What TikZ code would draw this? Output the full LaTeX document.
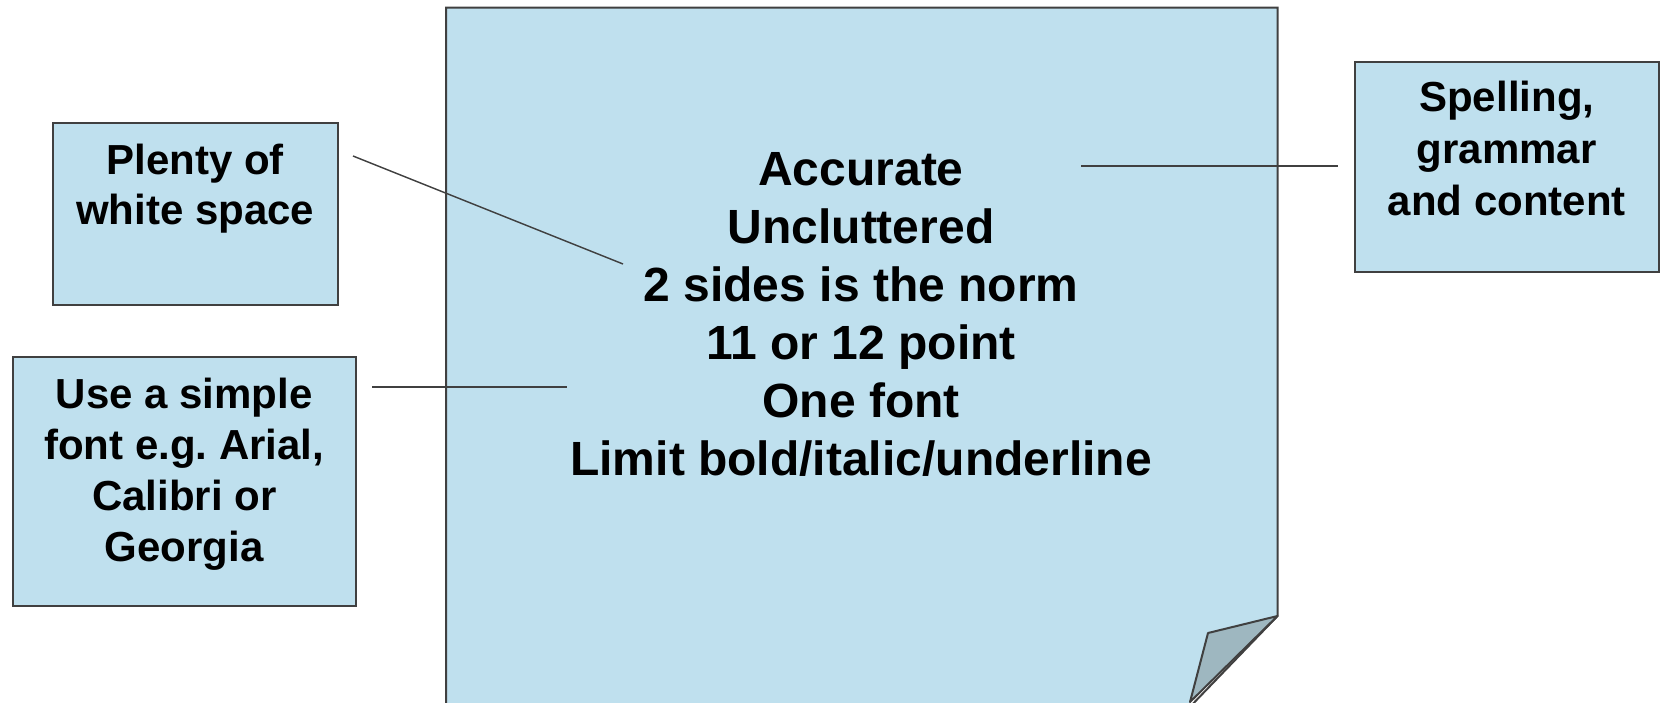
\documentclass[tikz,border=0pt]{standalone}
\usepackage{fontspec}
\setmainfont{Liberation Sans}
\usetikzlibrary{positioning}
\definecolor{notefill}{RGB}{191,224,238}
\definecolor{noteline}{RGB}{64,64,64}
\definecolor{foldfill}{RGB}{158,183,192}

\tikzset{
  notebox/.style={draw=noteline, fill=notefill, line width=1.6pt, inner sep=0pt},
  notetext/.style={font=\bfseries\fontsize{42}{50}\selectfont, align=center, inner sep=0pt},
  maintext/.style={font=\bfseries\fontsize{48}{58}\selectfont, align=center, inner sep=0pt},
  leader/.style={draw=noteline, line width=1.4pt},
}

\begin{document}
\frenchspacing
\begin{tikzpicture}[x=1pt,y=-1pt]
\useasboundingbox (0,0) rectangle (1661,702);
% the page, cut off at the bottom, with its curled corner
\fill[notefill] (446,712) -- (446,7.5) -- (1277.5,7.5) -- (1277.5,616) -- (1190,702) -- (1185,712) -- cycle;
\draw[noteline, line width=2pt] (446,712) -- (446,7.5) -- (1277.5,7.5) -- (1277.5,616) -- (1185,712);
\filldraw[notebox, fill=foldfill, line width=2pt, line join=round] (1277.5,616) -- (1208,633) -- (1190,702) -- cycle;
\node[maintext, anchor=north] (rules) at (861,152.5) {Accurate\\Uncluttered\\2 sides is the norm\\11 or 12 point\\One font\\Limit bold/italic/underline};

% side notes
\node[notebox, minimum width=285pt, minimum height=182pt, anchor=north west] (space) at (52,122) {};
\node[notetext, below=22pt of space.north] (spacetext) {Plenty of\\white space};
\node[notebox, minimum width=343pt, minimum height=249pt, anchor=north west] (font) at (12,356) {};
\node[notetext, font=\bfseries\fontsize{42}{51}\selectfont, below=22pt of font.north] (fonttext) {Use a simple\\font e.g. Arial,\\Calibri or\\Georgia};
\node[notebox, minimum width=304pt, minimum height=210pt, anchor=north west] (spell) at (1354,61) {};
\node[notetext, font=\bfseries\fontsize{42}{52}\selectfont, below=20pt of spell.north] (spelltext) {Spelling,\\grammar\\and content};

% leader lines
\coordinate (spacefrom) at (353,156);
\coordinate (spaceto) at (623,264);
\coordinate (fontfrom) at (372,387);
\coordinate (fontto) at (567,387);
\coordinate (spellfrom) at (1081,166);
\coordinate (spellto) at (1338,166);
\draw[leader] (spacefrom) -- (spaceto);
\draw[leader] (fontfrom) -- (fontto);
\draw[leader] (spellfrom) -- (spellto);
\end{tikzpicture}
\end{document}
